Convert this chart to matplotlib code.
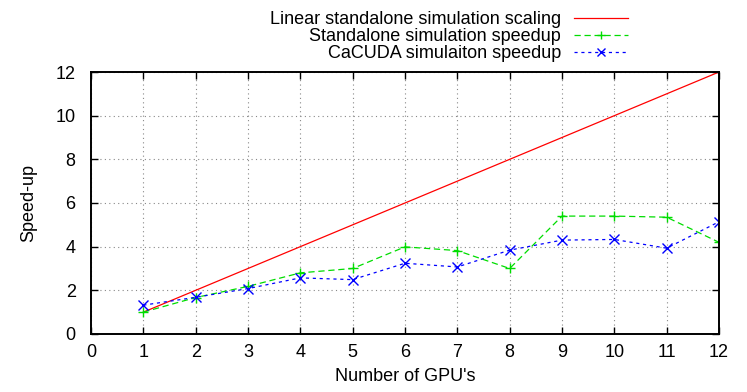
import matplotlib
matplotlib.use("Agg")
import matplotlib.pyplot as plt

plt.rcParams["font.family"] = ["Liberation Sans", "DejaVu Sans"]

gpus = [1, 2, 3, 4, 5, 6, 7, 8, 9, 10, 11, 12]
linear = [1, 2, 3, 4, 5, 6, 7, 8, 9, 10, 11, 12]
standalone = [1.0, 1.67, 2.18, 2.8, 3.0, 3.99, 3.82, 3.0, 5.4, 5.4, 5.35, 4.2]
cacuda = [1.32, 1.68, 2.08, 2.57, 2.49, 3.24, 3.07, 3.84, 4.3, 4.33, 3.93, 5.14]

fig = plt.figure(figsize=(7.47, 3.92), dpi=100)
ax = fig.add_axes([0.1218, 0.148, 0.8407, 0.6683])

l1, = ax.plot(gpus, linear, "-", color="#ff0000", linewidth=0.9,
              label="Linear standalone simulation scaling")
l2, = ax.plot(gpus, standalone, "--", color="#00dd00", linewidth=0.9, dashes=(5, 3),
              marker="+", markersize=7, markeredgewidth=1,
              label="Standalone simulation speedup")
l3, = ax.plot(gpus, cacuda, ":", color="#0000ff", linewidth=0.9, dashes=(2.5, 3),
              marker="x", markersize=7, markeredgewidth=1,
              label="CaCUDA simulaiton speedup")

ax.set_xlim(0, 12)
ax.set_ylim(0, 12)
ax.set_xticks(range(0, 13))
ax.set_yticks(range(0, 13, 2))
ax.grid(True, linestyle=(0, (1, 3)), color="#888888", linewidth=0.8)
ax.tick_params(direction="in", length=5, width=1, top=True, right=True,
               labelsize=13, pad=7)
ax.tick_params(axis="y", pad=11)
for s in ax.spines.values():
    s.set_linewidth(1.4)

ax.set_xlabel("Number of GPU's", fontsize=13, labelpad=5)
ax.set_ylabel("Speed-up", fontsize=13, labelpad=13)

fig.legend(handles=[l1, l2, l3], loc="upper right", bbox_to_anchor=(0.85, 0.99),
           markerfirst=False, frameon=False, fontsize=13, handlelength=3.0,
           handletextpad=0.7, labelspacing=0.0, borderaxespad=0, markerscale=0.75)

fig.savefig("out.png", dpi=100)
